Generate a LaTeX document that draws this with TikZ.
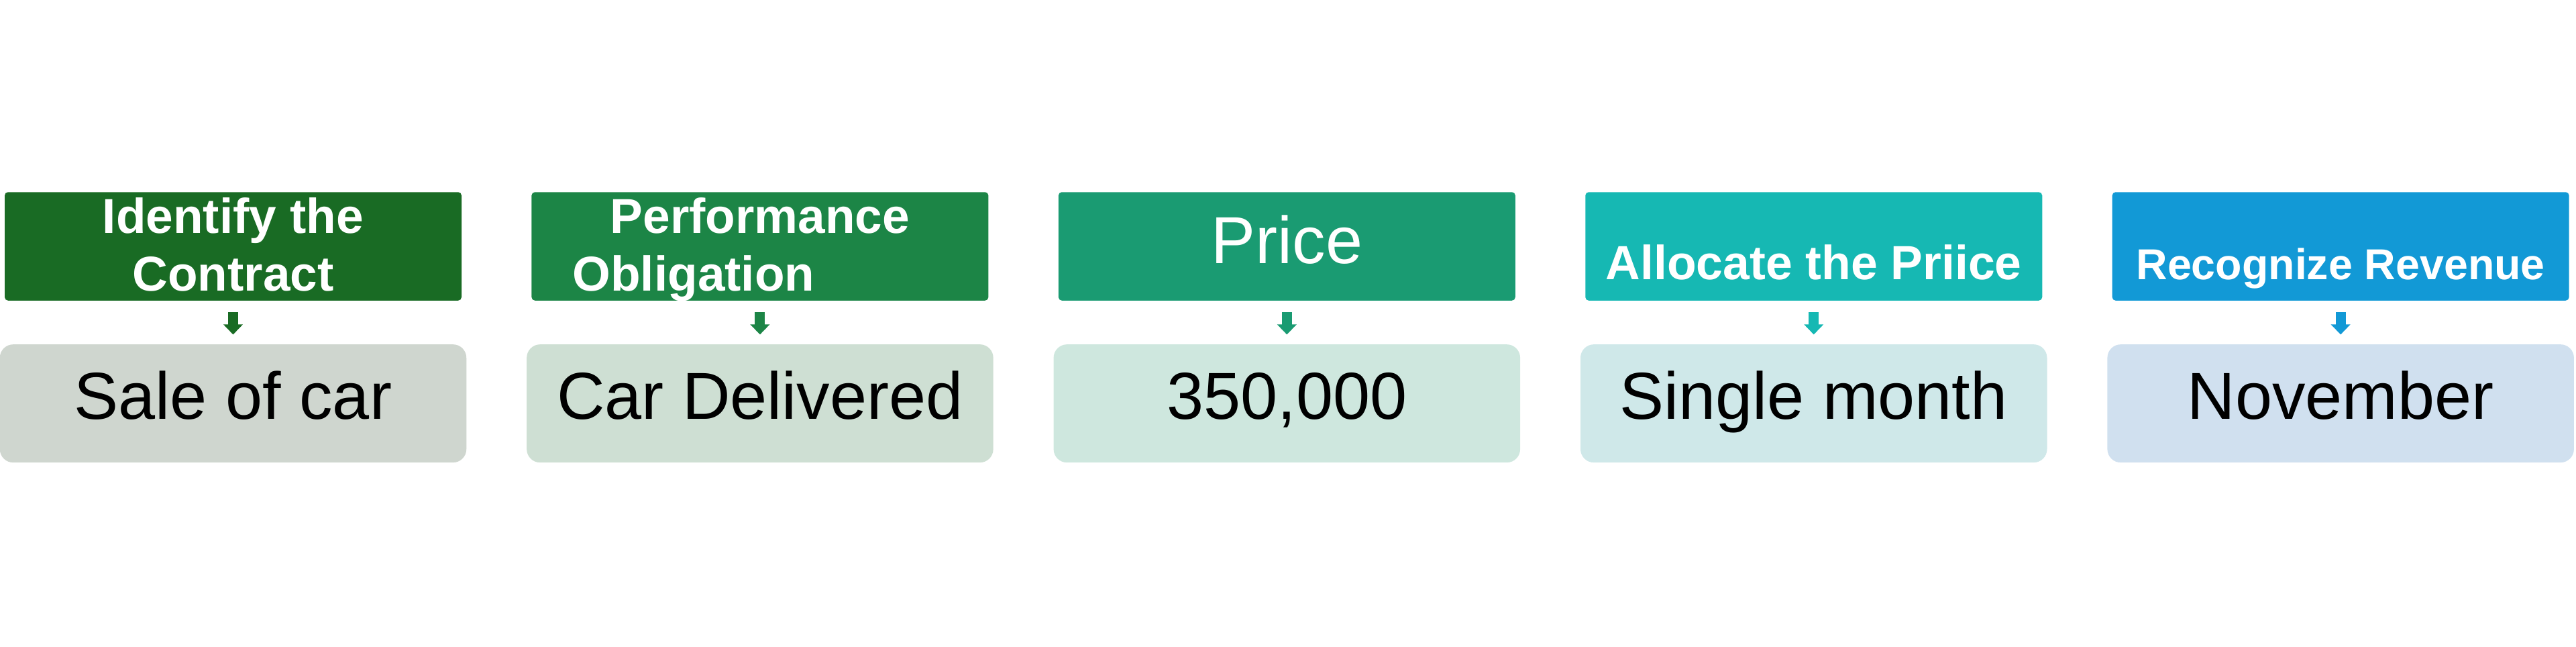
\documentclass[tikz,border=0pt]{standalone}
\usepackage{fontspec}
\setmainfont{Liberation Sans}
\usetikzlibrary{positioning,arrows.meta}

\definecolor{hd1}{HTML}{196B24}
\definecolor{hd2}{HTML}{1C8546}
\definecolor{hd3}{HTML}{1A9B72}
\definecolor{hd4}{HTML}{16B8B3}
\definecolor{hd5}{HTML}{1299D6}
\definecolor{bx1}{HTML}{CFD6CF}
\definecolor{bx2}{HTML}{CEDFD3}
\definecolor{bx3}{HTML}{CEE7DE}
\definecolor{bx4}{HTML}{CFE8E9}
\definecolor{bx5}{HTML}{D0E0EF}

\begin{document}
\begin{tikzpicture}[
  head/.style={fill=#1, rounded corners=0.05cm, minimum width=6.81cm, minimum height=1.615cm,
    inner sep=0pt, text=white, align=center, font=\bfseries\fontsize{0.73cm}{0.86cm}\selectfont},
  detail/.style={fill=#1, rounded corners=0.2cm, minimum width=6.955cm, minimum height=1.76cm,
    inner sep=0pt, text height=0.75cm, text depth=0.29cm, font=\fontsize{0.99cm}{1.2cm}\selectfont},
  node distance=1.03cm]
\useasboundingbox (0,0) rectangle (38.4,9.63);

% Step headers
\node[head=hd1, text height=1.4cm, text depth=0.08cm] (h1) at (3.475,5.96) {Identify the\\Contract};
\node[head=hd2, text height=1.4cm, text depth=0.08cm, right=of h1] (h2) {Performance\\Obligation\hspace*{1.98cm}};
\node[head=hd3, font=\fontsize{0.99cm}{1.2cm}\selectfont, text height=0.75cm, text depth=0.25cm, right=of h2] (h3) {Price};
\node[head=hd4, font=\bfseries\fontsize{0.715cm}{0.86cm}\selectfont, text height=1.1cm, text depth=0.12cm, right=of h3] (h4) {Allocate the Priice};
\node[head=hd5, font=\bfseries\fontsize{0.645cm}{0.8cm}\selectfont, text height=1.1cm, text depth=0.12cm, right=of h4] (h5) {Recognize Revenue};

% Details under each step
\node[detail=bx1, below=0.64cm of h1] (d1) {Sale of car};
\node[detail=bx2, below=0.64cm of h2] (d2) {Car Delivered};
\node[detail=bx3, below=0.64cm of h3] (d3) {350,000};
\node[detail=bx4, below=0.64cm of h4] (d4) {Single month};
\node[detail=bx5, below=0.64cm of h5] (d5) {November};

% Small down arrows
\foreach \i in {1,...,5}
  \draw[-{Triangle[width=0.28cm,length=0.15cm]}, line width=0.15cm, hd\i,
    shorten <=0.17cm, shorten >=0.14cm] (h\i) -- (d\i);

\end{tikzpicture}
\end{document}
